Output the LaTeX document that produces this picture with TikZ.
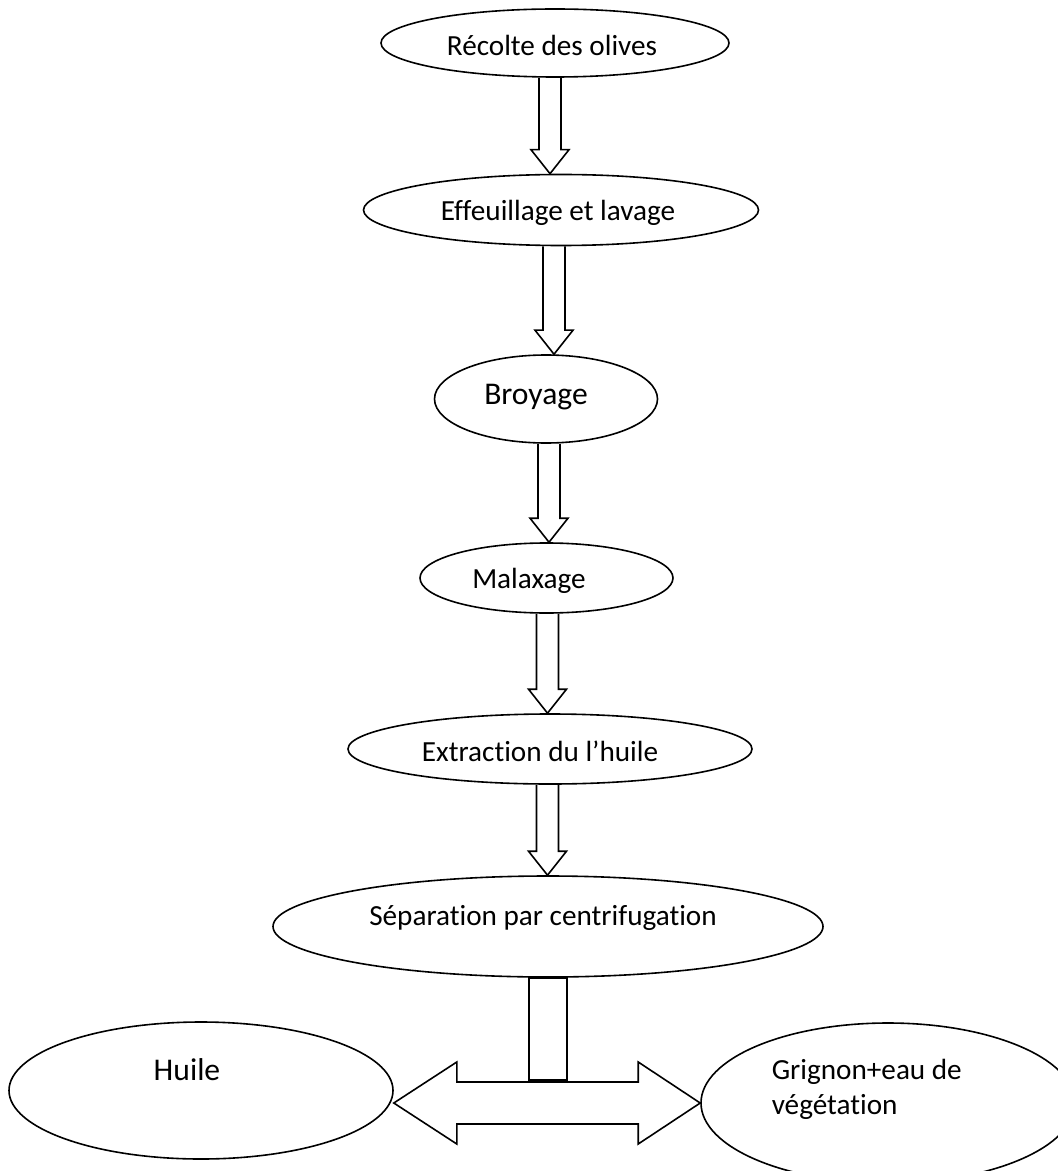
\documentclass[tikz,border=0pt]{standalone}
\usepackage{fontspec}
\setmainfont[Ligatures={NoCommon}]{Carlito}
\usepackage{tikz}
\usetikzlibrary{shapes.geometric, calc}
\newcommand{\basesize}{\fontsize{14.6}{17.5}\selectfont}
\newcommand{\bigsize}{\fontsize{15.8}{19}\selectfont}
% hollow block arrow from #1 down to #2, on the axis x=#3
\newcommand{\flowarrow}[3]{%
  \path (#3,0) coordinate (axis);
  \draw [blockarrow] ($(#1.south -| axis)+(-11,0)$) -- ($(#2.north -| axis)+(-11,-24)$)
    -- ($(#2.north -| axis)+(-19,-24)$) -- (#2.north -| axis)
    -- ($(#2.north -| axis)+(19,-24)$) -- ($(#2.north -| axis)+(11,-24)$)
    -- ($(#1.south -| axis)+(11,0)$);
}

\begin{document}
\begin{tikzpicture}[
      % GLOBAL CFG
      x=0.5pt, y=-0.5pt,
      font=\basesize,
      line width=0.8pt,
      % Styles
      stage/.style={% For the process steps
        ellipse,
        draw,
        inner sep=0pt
      },
      stagetext/.style={% For the texts of the steps
        inner sep=0pt
      },
      blockarrow/.style={% For the hollow arrows
        draw,
        line join=miter
      }
      ]
      \useasboundingbox (0,0) rectangle (1058,1171);

      % The steps:
      \node [stage, minimum width=174pt, minimum height=34pt] (recolte) at (555,43) {};
      \node [stagetext] (recoltetxt) at (552,45) {Récolte des olives};

      \node [stage, minimum width=197.5pt, minimum height=35.5pt] (effeuillage) at (561,210) {};
      \node [stagetext] (effeuillagetxt) at (558,213) {Effeuillage et lavage};

      \node [stage, minimum width=111.5pt, minimum height=44pt] (broyage) at (546,399) {};
      \node [stagetext, font=\bigsize] (broyagetxt) at (536,397) {Broyage};

      \node [stage, minimum width=126.5pt, minimum height=35pt] (malaxage) at (546.5,578) {};
      \node [stagetext] (malaxagetxt) at (529,581) {Malaxage};

      \node [stage, minimum width=202pt, minimum height=35pt] (extraction) at (550,749) {};
      \node [stagetext] (extractiontxt) at (540,751) {Extraction du l’huile};

      \node [stage, minimum width=275pt, minimum height=50.5pt] (separation) at (548,926.5) {};
      \node [stagetext] (separationtxt) at (543,918) {Séparation par centrifugation};

      \node [stage, minimum width=192pt, minimum height=68.5pt] (huile) at (201,1090.5) {};
      \node [stagetext, font=\bigsize] (huiletxt) at (187,1070) {Huile};

      \node [stage, minimum width=187pt, minimum height=80pt] (grignon) at (888,1103) {};
      \node [stagetext, anchor=west, align=left] (grignontxt) at (771,1089.5) {Grignon+eau de\\végétation};

      % The arrows between the steps:
      \flowarrow{recolte}{effeuillage}{550}
      \flowarrow{effeuillage}{broyage}{554}
      \flowarrow{broyage}{malaxage}{549}
      \flowarrow{malaxage}{extraction}{547.5}
      \flowarrow{extraction}{separation}{547.5}

      % The split to both products:
      \coordinate (ltip) at (huile.east |- grignon.west);
      \coordinate (rtip) at (grignon.west);
      \draw [blockarrow] (ltip) -- ++(63,-41) -- ++(0,20) -- ($(rtip)+(-62,-21)$)
        -- ++(0,-20) -- (rtip) -- ++(-62,41) -- ++(0,-20) -- ($(ltip)+(63,21)$)
        -- ++(0,20) -- cycle;
      \coordinate (stem) at ($(ltip)+(63,-23)$);
      \draw [blockarrow] ($(separation.south)+(-19,0)$) rectangle ($(separation.south |- stem)+(19,0)$);

    \end{tikzpicture}
\end{document}
